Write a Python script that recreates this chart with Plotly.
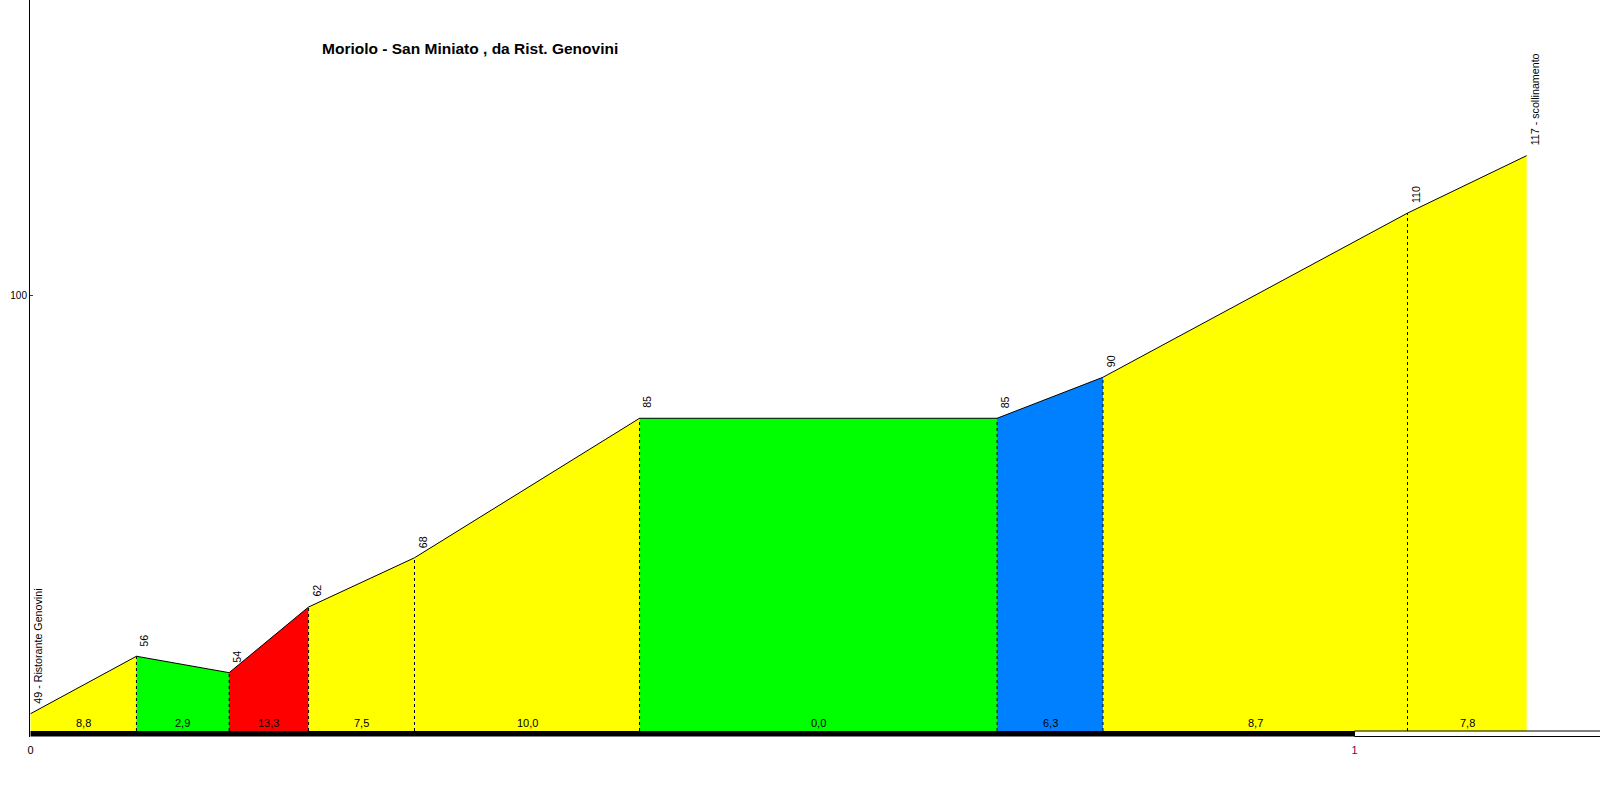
import plotly.graph_objects as go

# ---- data ----
dist_km = [0.0, 0.08, 0.15, 0.21, 0.29, 0.46, 0.73, 0.81, 1.04, 1.13]
elev_m = [49, 56, 54, 62, 68, 85, 85, 90, 110, 117]
grade_labels = ["8,8", "2,9", "13,3", "7,5", "10,0", "0,0", "6,3", "8,7", "7,8"]
seg_colors = ["#FFFF00", "#00FF00", "#FF0000", "#FFFF00", "#FFFF00",
              "#00FF00", "#0080FF", "#FFFF00", "#FFFF00"]
point_labels = ["49 - Ristorante Genovini", "56", "54", "62", "68", "85", "85", "90", "110",
                "117 - scollinamento"]
x_tickvals = [0, 1]
x_ticktext = ["0", "<span style='color:#800040'>1</span>"]
y_tickvals = [100]
y_ticktext = ["100"]
title_text = "Moriolo - San Miniato , da Rist. Genovini"

BASE_TOP = 46.89
BASE_BOT = 46.22
X_MAX = 1.1854
Y_MIN, Y_MAX = 46.16, 135.97

fig = go.Figure()

# filled segments
for i in range(len(dist_km) - 1):
    x0, x1 = dist_km[i], dist_km[i + 1]
    e0, e1 = elev_m[i], elev_m[i + 1]
    fig.add_trace(go.Scatter(
        x=[x0, x0, x1, x1, x0], y=[BASE_TOP, e0, e1, BASE_TOP, BASE_TOP],
        fill="toself", fillcolor=seg_colors[i], mode="lines",
        line=dict(width=0, color=seg_colors[i]), hoverinfo="skip", showlegend=False))

# dashed separators
for i in range(1, len(dist_km) - 1):
    fig.add_trace(go.Scatter(
        x=[dist_km[i], dist_km[i]], y=[BASE_TOP, elev_m[i]], mode="lines",
        line=dict(color="black", width=1, dash="3px,3px"), hoverinfo="skip", showlegend=False))

# profile line
fig.add_trace(go.Scatter(x=dist_km, y=elev_m, mode="lines",
                         line=dict(color="black", width=1), hoverinfo="skip", showlegend=False))

# baseline bars
fig.add_shape(type="rect", xref="x", yref="y", x0=0, x1=1, y0=BASE_BOT, y1=BASE_TOP,
              fillcolor="black", line=dict(width=0))
fig.add_shape(type="rect", xref="x", yref="y", x0=1, x1=X_MAX + 0.01, y0=BASE_BOT, y1=BASE_TOP,
              fillcolor="white", line=dict(width=1, color="black"))

# elevation labels
for i, (x, e) in enumerate(zip(dist_km, elev_m)):
    fig.add_annotation(x=x, y=e, text=point_labels[i], textangle=-90, showarrow=False,
                       xanchor="left", yanchor="bottom", xshift=0, yshift=8,
                       font=dict(family="Liberation Sans, Arial", size=10.7, color="#000000"))

# gradient labels
for i in range(len(dist_km) - 1):
    xm = (dist_km[i] + dist_km[i + 1]) / 2
    fig.add_annotation(x=xm, y=BASE_TOP, text=grade_labels[i], showarrow=False,
                       yanchor="bottom", yshift=0,
                       font=dict(family="Liberation Sans, Arial", size=11, color="#000000"))

fig.add_annotation(xref="paper", yref="paper", x=(320 - 30) / 1570, y=1 - 48 / 737,
                   text="<b>" + title_text + "</b>", showarrow=False,
                   xanchor="left", yanchor="middle",
                   font=dict(family="Liberation Sans, Arial", size=15.5, color="black"))

fig.update_layout(
    width=1600, height=800,
    margin=dict(l=30, r=0, t=0, b=63),
    plot_bgcolor="white", paper_bgcolor="white",
    xaxis=dict(range=[-0.0004, X_MAX], showgrid=False, zeroline=False, showline=False,
               tickvals=x_tickvals, ticktext=x_ticktext, ticks="", ticklabelstandoff=5,
               tickfont=dict(family="Liberation Sans, Arial", size=11, color="#000000")),
    yaxis=dict(range=[Y_MIN, Y_MAX], showgrid=False, zeroline=False, showline=True,
               linecolor="black", linewidth=1, mirror=False,
               tickvals=y_tickvals, ticktext=y_ticktext, ticks="inside", ticklen=3,
               tickcolor="#C00000", tickfont=dict(family="Liberation Sans, Arial", size=10, color="black")),
)

fig.write_html("out.html", config={"displayModeBar": False},
               post_script="document.body.style.margin='0';document.body.style.overflow='hidden';")
